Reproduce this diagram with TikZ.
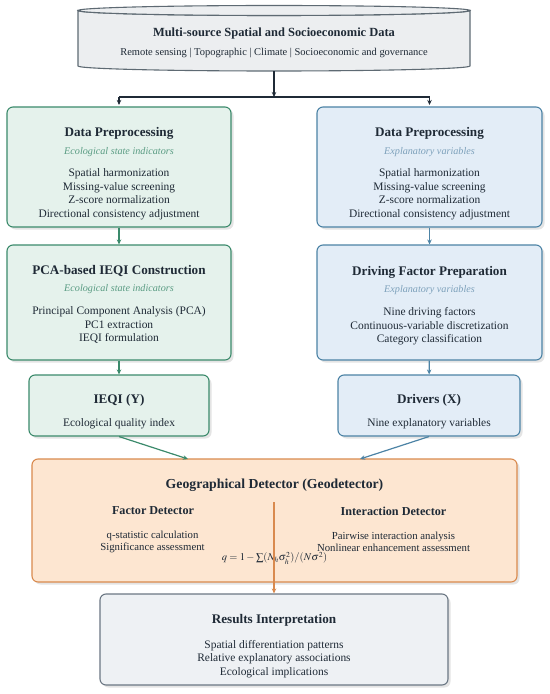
\documentclass[tikz,border=0pt]{standalone}
\usepackage{mathptmx}
\usepackage{fontspec}
\setmainfont{Liberation Serif}
\usetikzlibrary{arrows.meta}
\usetikzlibrary{shadows}
\usetikzlibrary{calc}

\definecolor{inkdark}{HTML}{1F2A36}
\definecolor{datline}{HTML}{5E6A73}
\definecolor{datfill}{HTML}{ECEEF0}
\definecolor{ecoline}{HTML}{3B8A6B}
\definecolor{ecofill}{HTML}{E5F2EC}
\definecolor{ecosub}{HTML}{5A9C83}
\definecolor{expline}{HTML}{4C83A5}
\definecolor{expfill}{HTML}{E3EDF7}
\definecolor{expsub}{HTML}{7DA1BB}
\definecolor{geoline}{HTML}{D98A4E}
\definecolor{geofill}{HTML}{FDE6D1}
\definecolor{resline}{HTML}{6B7783}
\definecolor{resfill}{HTML}{EEF1F4}

\tikzset{
	box/.style={draw, rounded corners=6bp, line width=1.1bp, inner sep=0pt, align=center, text=inkdark,
		font=\fontsize{11.5}{13.6}\selectfont,
		drop shadow={shadow xshift=2.5bp, shadow yshift=-2.5bp, opacity=0.15, fill=black!70}},
	ecobox/.style={box, draw=ecoline, fill=ecofill},
	expbox/.style={box, draw=expline, fill=expfill},
	geobox/.style={box, draw=geoline, fill=geofill},
	resbox/.style={box, draw=resline, fill=resfill},
	arr/.style={-{Stealth[length=5bp,width=4.5bp]}, line width=1.2bp},
	headtext/.style={font=\fontsize{12.2}{14}\selectfont\bfseries, text=inkdark},
	smalltext/.style={font=\fontsize{10.8}{12}\selectfont, text=inkdark, align=center}
}
\newcommand{\hd}[1]{{\fontsize{13.2}{15}\selectfont\bfseries #1}}
\newcommand{\ecosubt}[1]{{\fontsize{10.2}{12}\selectfont\itshape\color{ecosub}#1}}
\newcommand{\expsubt}[1]{{\fontsize{10.2}{12}\selectfont\itshape\color{expsub}#1}}

\begin{document}
\begin{tikzpicture}[x=1bp, y=-1bp]
	\useasboundingbox (0,0) rectangle (550,694);

	\draw[datline, line width=1.1bp, fill=datfill] (78,10.5) -- (78,66) arc[start angle=180, end angle=0, x radius=196, y radius=5] -- (470,10.5) arc[start angle=0, end angle=180, x radius=196, y radius=5] -- cycle;
	\draw[datline, line width=1.1bp, fill=datfill] (274,10.5) ellipse[x radius=196, y radius=5];
	\node[minimum width=392bp, minimum height=66bp, inner sep=0pt, align=center, text=inkdark, font=\fontsize{10.5}{13.6}\selectfont] (data) at (274,38)
		{\rule{0pt}{18bp}{\fontsize{12.5}{15}\selectfont\bfseries Multi-source Spatial and Socioeconomic Data}\\[5.9bp] Remote sensing | Topographic | Climate | Socioeconomic and governance};

	\node[ecobox, minimum width=224bp, minimum height=120bp] (preEco) at (119,167)
		{\rule{0pt}{23bp}\hd{Data Preprocessing}\\[4.4bp] \ecosubt{Ecological state indicators}\\[8.4bp]
		Spatial harmonization\\ Missing-value screening\\ Z-score normalization\\ Directional consistency adjustment};
	\node[expbox, minimum width=225bp, minimum height=120bp] (preExp) at (429.5,167)
		{\rule{0pt}{23bp}\hd{Data Preprocessing}\\[4.4bp] \expsubt{Explanatory variables}\\[8.4bp]
		Spatial harmonization\\ Missing-value screening\\ Z-score normalization\\ Directional consistency adjustment};

	\node[ecobox, minimum width=224bp, minimum height=115bp] (pca) at (119,302.5)
		{\rule{0pt}{12.7bp}\hd{PCA-based IEQI Construction}\\[3.4bp] \ecosubt{Ecological state indicators}\\[9.9bp]
		Principal Component Analysis (PCA)\\ PC1 extraction\\ IEQI formulation};
	\node[expbox, minimum width=225bp, minimum height=115bp] (drvPrep) at (429.5,302.5)
		{\rule{0pt}{15.1bp}\hd{Driving Factor Preparation}\\[3.4bp] \expsubt{Explanatory variables}\\[9.9bp]
		Nine driving factors\\ Continuous-variable discretization\\ Category classification};

	\node[ecobox, minimum width=180bp, minimum height=61bp] (ieqi) at (119,405.5)
		{\rule{0pt}{22.4bp}\hd{IEQI (Y)}\\[9.4bp] Ecological quality index};
	\node[expbox, minimum width=182bp, minimum height=61bp] (drivers) at (429,405.5)
		{\rule{0pt}{22.4bp}\hd{Drivers (X)}\\[9.4bp] Nine explanatory variables};

	\node[geobox, minimum width=485bp, minimum height=123bp] (geo) at (274.5,520.5) {};
	\node[text=inkdark, font=\fontsize{13.8}{16}\selectfont\bfseries] (geoTitle) at (274.5,485) {Geographical Detector (Geodetector)};
	\node[headtext] (factor) at (153,511) {Factor Detector};
	\node[headtext] (inter) at (393.5,511) {Interaction Detector};
	\node[smalltext] (factorList) at (152.5,542) {q-statistic calculation\\ Significance assessment};
	\node[smalltext] (interList) at (393.5,542) {Pairwise interaction analysis\\ Nonlinear enhancement assessment};
	\node[text=inkdark, font=\fontsize{10.5}{12}\selectfont, inner sep=0pt] (formula) at (274.5,558) {$q = 1 - \sum(N_h\sigma_h^2)/(N\sigma^2)$};

	\node[resbox, minimum width=348bp, minimum height=91bp] (results) at (274,639.5)
		{\rule{0pt}{22.9bp}\hd{Results Interpretation}\\[10.9bp]
		Spatial differentiation patterns\\ Relative explanatory associations\\ Ecological implications};

	\coordinate (fork) at (274,97);
	\coordinate (geoInEco) at (188,459);
	\coordinate (geoInExp) at (360,459);
	\coordinate (geoOut) at (274,502);

	\draw[arr, inkdark] (data.south) -- (fork);
	\draw[line width=1.2bp, inkdark] (preEco.north |- fork) -- (preExp.north |- fork);
	\draw[arr, inkdark, shorten >=1.5bp] (preEco.north |- fork) -- (preEco.north);
	\draw[arr, inkdark, shorten >=1.5bp] (preExp.north |- fork) -- (preExp.north);

	\draw[arr, ecoline] (preEco) -- (pca);
	\draw[arr, ecoline] (pca) -- (ieqi);
	\draw[arr, expline] (preExp) -- (drvPrep);
	\draw[arr, expline] (drvPrep) -- (drivers);

	\draw[arr, ecoline] (ieqi.south) -- (geoInEco);
	\draw[arr, expline] (drivers.south) -- (geoInExp);
	\draw[arr, geoline] (geoOut) -- (results.north);
\end{tikzpicture}
\end{document}
